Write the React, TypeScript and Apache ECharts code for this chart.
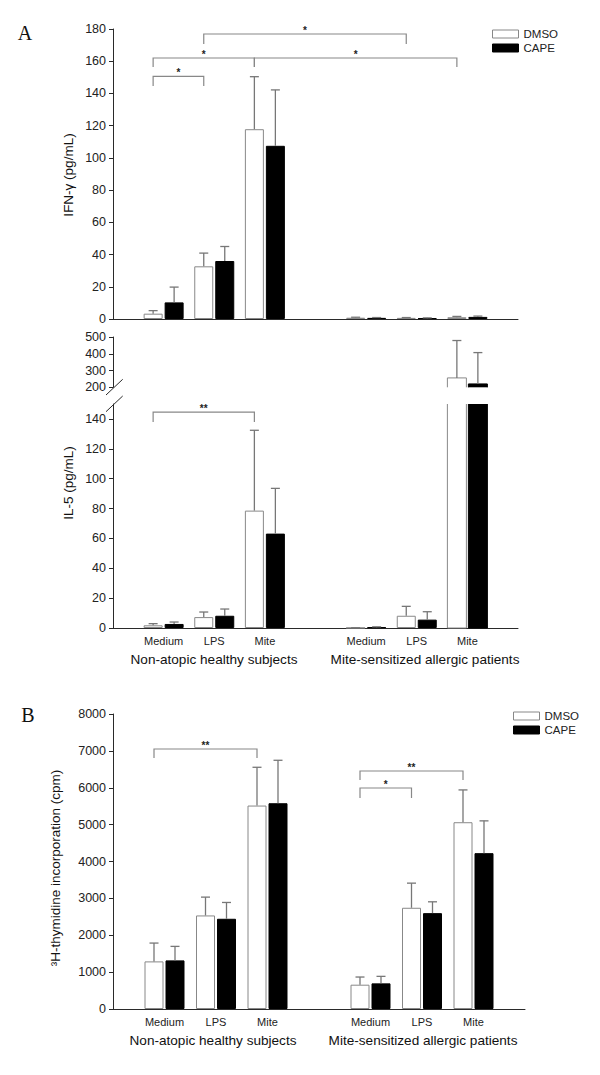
import React, { useEffect, useRef } from "react";
import * as echarts from "echarts";

// ---------- data ----------
const slotLabels = ["", "Medium", "LPS", "Mite", "", "Medium", "LPS", "Mite", ""];
const slotIndex = [1, 2, 3, 5, 6, 7]; // healthy: Medium, LPS, Mite | patients: Medium, LPS, Mite
const groupLabels = ["Non-atopic healthy subjects", "Mite-sensitized allergic patients"];
const seriesNames = ["DMSO", "CAPE"];

// IFN-gamma (pg/mL): means and mean+SD
const ifnDmso = [3.3, 32.7, 117.8, 0.8, 0.7, 1.1];
const ifnDmsoUpper = [5.2, 40.9, 150.4, 1.1, 0.9, 1.6];
const ifnCape = [10.3, 36.0, 107.5, 0.7, 0.5, 1.3];
const ifnCapeUpper = [19.8, 45.0, 142.2, 0.9, 0.7, 1.8];

// IL-5 (pg/mL)
const il5Dmso = [1.8, 7.3, 78.6, 0.1, 8.2, 256];
const il5DmsoUpper = [2.9, 10.7, 132.4, 0.2, 14.5, 479];
const il5Cape = [2.7, 8.2, 63.2, 0.5, 5.6, 220];
const il5CapeUpper = [4.0, 12.7, 93.5, 0.8, 10.9, 407];

// 3H-thymidine incorporation (cpm)
const thyDmso = [1291, 2537, 5517, 659, 2745, 5065];
const thyDmsoUpper = [1788, 3034, 6555, 867, 3413, 5941];
const thyCape = [1318, 2447, 5580, 695, 2600, 4226];
const thyCapeUpper = [1698, 2889, 6745, 885, 2907, 5102];

// significance brackets: [fromSlot, toSlot, lineValue, leftEndValue, rightEndValue]
const ifnBrackets = [
  [1, 2, 150.6, 144.6, 144.6],
  [1, 3, 162, 156.4, 156.4],
  [3, 7, 162, 156.4, 156.4],
  [2, 6, 176.9, 170.7, 170.7],
];
const ifnBracketLabels = ["*", "*", "*", "*"];
const il5Brackets = [[1, 3, 144.6, 138, 138]];
const il5BracketLabels = ["**"];
const thyBrackets = [
  [1, 3, 7051, 6807, 6807],
  [5, 7, 6454, 6210, 6210],
  [5, 6, 5993, 5722, 5722],
];
const thyBracketLabels = ["**", "**", "*"];

// broken IL-5 axis: lower segment 0..150, upper segment 200..500
const il5LowerRange = [0, 150];
const il5UpperRange = [200, 500];
const il5LowerTicks = [0, 20, 40, 60, 80, 100, 120, 140];

// ---------- styles ----------
const FONT = '"Liberation Sans", Arial, Helvetica, sans-serif';
const AXIS_COLOR = "#2a2a2a";
const ERR_COLOR = "#777";
const BRACKET_COLOR = "#888";
const BAR_W = 19;
const BAR_GAP = 2;
const OFF = (BAR_W + BAR_GAP) / 2;

const dmsoStyle = { color: "#fff", borderColor: "#888", borderWidth: 1 };
const capeStyle = { color: "#000", borderColor: "#000", borderWidth: 1 };

function barSeries(name: string, k: number, vals: number[], style: any, keep: (v: number) => boolean) {
  const data: any[] = [];
  slotIndex.forEach((s, i) => {
    if (keep(vals[i])) data.push([s, vals[i]]);
  });
  return {
    type: "bar",
    name,
    xAxisIndex: k,
    yAxisIndex: k,
    data,
    barWidth: BAR_W,
    barGap: (BAR_GAP / BAR_W) * 100 + "%",
    itemStyle: style,
    clip: true,
    z: 2,
  };
}

// bar pieces that cross the axis break: open at the break side
function brokenBarSeries(k: number, vals: number[], sign: number, style: any, range: number[]) {
  const data: any[] = [];
  slotIndex.forEach((s, i) => {
    const v = vals[i];
    if (v > range[1] || (range[0] > 0 && v > range[0])) data.push([s, v]);
  });
  return {
    type: "custom",
    xAxisIndex: k,
    yAxisIndex: k,
    data,
    encode: { x: 0, y: 1 },
    silent: true,
    z: 2,
    renderItem: (params: any, api: any) => {
      const v = api.value(1);
      const lo = range[0];
      const hi = Math.min(v, range[1]);
      const pLo = api.coord([api.value(0), lo]);
      const pHi = api.coord([api.value(0), hi]);
      const cx = pLo[0] + sign * OFF;
      const x0 = cx - BAR_W / 2;
      const x1 = cx + BAR_W / 2;
      const st = { stroke: style.borderColor, lineWidth: style.borderWidth };
      const children: any[] = [
        { type: "rect", shape: { x: x0, y: pHi[1], width: BAR_W, height: pLo[1] - pHi[1] }, style: { fill: style.color } },
        { type: "line", shape: { x1: x0, y1: pLo[1], x2: x0, y2: pHi[1] }, style: st },
        { type: "line", shape: { x1: x1, y1: pLo[1], x2: x1, y2: pHi[1] }, style: st },
      ];
      if (v <= range[1]) children.push({ type: "line", shape: { x1: x0, y1: pHi[1], x2: x1, y2: pHi[1] }, style: st });
      if (lo === 0) children.push({ type: "line", shape: { x1: x0, y1: pLo[1], x2: x1, y2: pLo[1] }, style: st });
      return { type: "group", children };
    },
  };
}

function errSeries(k: number, means: number[], uppers: number[], sign: number, keep: (m: number, u: number) => boolean) {
  const data: any[] = [];
  slotIndex.forEach((s, i) => {
    if (keep(means[i], uppers[i])) data.push([s, means[i], uppers[i]]);
  });
  return {
    type: "custom",
    xAxisIndex: k,
    yAxisIndex: k,
    data,
    encode: { x: 0, y: [1, 2] },
    silent: true,
    z: 3,
    renderItem: (params: any, api: any) => {
      const base = api.coord([api.value(0), api.value(1)]);
      const top = api.coord([api.value(0), api.value(2)]);
      const x = base[0] + sign * OFF;
      const st = { stroke: ERR_COLOR, lineWidth: 1.3 };
      return {
        type: "group",
        children: [
          { type: "line", shape: { x1: x, y1: base[1], x2: x, y2: top[1] }, style: st },
          { type: "line", shape: { x1: x - 4.5, y1: top[1], x2: x + 4.5, y2: top[1] }, style: st },
        ],
      };
    },
  };
}

function bracketSeries(k: number, brackets: number[][], labels: string[]) {
  return {
    type: "custom",
    xAxisIndex: k,
    yAxisIndex: k,
    data: brackets,
    encode: { x: [0, 1], y: [2, 3, 4] },
    silent: true,
    z: 4,
    renderItem: (params: any, api: any) => {
      const p1 = api.coord([api.value(0), api.value(2)]);
      const p2 = api.coord([api.value(1), api.value(2)]);
      const l = api.coord([api.value(0), api.value(3)]);
      const r = api.coord([api.value(1), api.value(4)]);
      const x1 = p1[0] - OFF;
      const x2 = p2[0] - OFF;
      return {
        type: "group",
        children: [
          {
            type: "polyline",
            shape: { points: [[x1, l[1]], [x1, p1[1]], [x2, p1[1]], [x2, r[1]]] },
            style: { stroke: BRACKET_COLOR, lineWidth: 1.2, fill: null },
          },
          {
            type: "text",
            x: (x1 + x2) / 2,
            y: p1[1] - 3.5,
            style: {
              text: labels[params.dataIndex],
              fill: "#222",
              font: `bold 10px ${FONT}`,
              align: "center",
              verticalAlign: "middle",
              textAlign: "center",
              textVerticalAlign: "middle",
            },
          },
        ],
      };
    },
  };
}

function xAxis(k: number, showLabels: boolean, showLine: boolean) {
  return {
    type: "category",
    gridIndex: k,
    data: slotLabels,
    boundaryGap: false,
    axisTick: { show: false },
    axisLine: { show: showLine, lineStyle: { color: AXIS_COLOR, width: 1 } },
    axisLabel: { show: showLabels, interval: 0, fontSize: 11, color: "#222", margin: 7, fontFamily: FONT },
    splitLine: { show: false },
  };
}

function yAxis(k: number, min: number, max: number, interval: number, extra: any = {}) {
  return {
    type: "value",
    gridIndex: k,
    min,
    max,
    interval,
    splitLine: { show: false },
    axisLine: { show: true, lineStyle: { color: AXIS_COLOR, width: 1 } },
    axisTick: { show: true, length: 4, lineStyle: { color: AXIS_COLOR }, ...(extra.axisTick || {}) },
    axisLabel: {
      fontSize: 12.5,
      color: "#222",
      margin: 7,
      fontFamily: FONT,
      formatter: (v: number) => String(v),
      ...(extra.axisLabel || {}),
    },
  };
}

function vText(text: string, x: number, y: number) {
  return {
    type: "text",
    x,
    y,
    rotation: Math.PI / 2,
    style: {
      text,
      font: `13.5px ${FONT}`,
      fill: "#111",
      textAlign: "center",
      textVerticalAlign: "middle",
      align: "center",
      verticalAlign: "middle",
    },
  };
}

function hText(text: string, x: number, y: number, font: string) {
  return {
    type: "text",
    x,
    y,
    style: {
      text,
      font,
      fill: "#111",
      textAlign: "center",
      textVerticalAlign: "middle",
      align: "center",
      verticalAlign: "middle",
    },
  };
}

export default function App() {
  const ref = useRef<HTMLDivElement>(null);
  useEffect(() => {
    if (!ref.current) return;
    const chart = echarts.init(ref.current, null, { renderer: "svg" });
    const all = (_v: number) => true;
    const inLower = (v: number) => v <= il5LowerRange[1];
    const legendData = [
      { name: seriesNames[0], itemStyle: dmsoStyle },
      { name: seriesNames[1], itemStyle: capeStyle },
    ];
    const legendCommon = {
      orient: "vertical",
      icon: "rect",
      itemWidth: 26,
      itemHeight: 8,
      itemGap: 2,
      selectedMode: false,
      textStyle: { fontSize: 11.5, color: "#222", fontFamily: FONT },
      data: legendData,
    };
    const option: any = {
      animation: false,
      backgroundColor: "#fff",
      textStyle: { fontFamily: FONT },
      legend: [
        { ...legendCommon, left: 487, top: 23 },
        { ...legendCommon, left: 508, top: 705 },
      ],
      grid: [
        { left: 113, width: 405, top: 29, height: 290 },
        { left: 113, width: 405, top: 337, height: 50.3 },
        { left: 113, width: 405, top: 404, height: 224 },
        { left: 113, width: 412, top: 714, height: 295 },
      ],
      xAxis: [xAxis(0, false, true), xAxis(1, false, false), xAxis(2, true, true), xAxis(3, true, true)],
      yAxis: [
        yAxis(0, 0, 180, 20),
        yAxis(1, il5UpperRange[0], il5UpperRange[1], 100),
        yAxis(2, il5LowerRange[0], il5LowerRange[1], 10, {
          axisTick: { customValues: il5LowerTicks },
          axisLabel: { customValues: il5LowerTicks, formatter: (v: number) => (v > 140 ? "" : String(v)) },
        }),
        yAxis(3, 0, 8000, 1000),
      ],
      series: [
        // IFN-gamma
        barSeries(seriesNames[0], 0, ifnDmso, dmsoStyle, all),
        barSeries(seriesNames[1], 0, ifnCape, capeStyle, all),
        errSeries(0, ifnDmso, ifnDmsoUpper, -1, () => true),
        errSeries(0, ifnCape, ifnCapeUpper, 1, () => true),
        bracketSeries(0, ifnBrackets, ifnBracketLabels),
        // IL-5 upper segment
        brokenBarSeries(1, il5Dmso, -1, dmsoStyle, il5UpperRange),
        brokenBarSeries(1, il5Cape, 1, capeStyle, il5UpperRange),
        errSeries(1, il5Dmso, il5DmsoUpper, -1, (m) => m > il5UpperRange[0]),
        errSeries(1, il5Cape, il5CapeUpper, 1, (m) => m > il5UpperRange[0]),
        // IL-5 lower segment
        barSeries(seriesNames[0], 2, il5Dmso, dmsoStyle, inLower),
        barSeries(seriesNames[1], 2, il5Cape, capeStyle, inLower),
        brokenBarSeries(2, il5Dmso, -1, dmsoStyle, il5LowerRange),
        brokenBarSeries(2, il5Cape, 1, capeStyle, il5LowerRange),
        errSeries(2, il5Dmso, il5DmsoUpper, -1, (m, u) => u <= il5LowerRange[1]),
        errSeries(2, il5Cape, il5CapeUpper, 1, (m, u) => u <= il5LowerRange[1]),
        bracketSeries(2, il5Brackets, il5BracketLabels),
        // thymidine
        barSeries(seriesNames[0], 3, thyDmso, dmsoStyle, all),
        barSeries(seriesNames[1], 3, thyCape, capeStyle, all),
        errSeries(3, thyDmso, thyDmsoUpper, -1, () => true),
        errSeries(3, thyCape, thyCapeUpper, 1, () => true),
        bracketSeries(3, thyBrackets, thyBracketLabels),
      ],
      graphic: [
        hText("A", 25, 33, `20px "Liberation Serif", "DejaVu Serif", serif`),
        hText("B", 28, 715, `20px "Liberation Serif", "DejaVu Serif", serif`),
        vText("IFN-γ (pg/mL)", 68, 175),
        vText("IL-5 (pg/mL)", 68, 483),
        vText("³H-thymidine incorporation (cpm)", 55, 868),
        hText(groupLabels[0], 214, 659, `13.6px ${FONT}`),
        hText(groupLabels[1], 425, 659, `13.6px ${FONT}`),
        hText(groupLabels[0], 213, 1040, `13.6px ${FONT}`),
        hText(groupLabels[1], 423, 1040, `13.6px ${FONT}`),
        { type: "line", shape: { x1: 106, y1: 395, x2: 122.7, y2: 379.3 }, style: { stroke: AXIS_COLOR, lineWidth: 1 } },
        { type: "line", shape: { x1: 106, y1: 411.7, x2: 122.7, y2: 396 }, style: { stroke: AXIS_COLOR, lineWidth: 1 } },
      ],
    };
    chart.setOption(option);
    return () => chart.dispose();
  }, []);
  return (
    <div
      ref={ref}
      style={{ position: "fixed", left: 0, top: 0, width: 600, height: 1075, background: "#fff" }}
    />
  );
}
